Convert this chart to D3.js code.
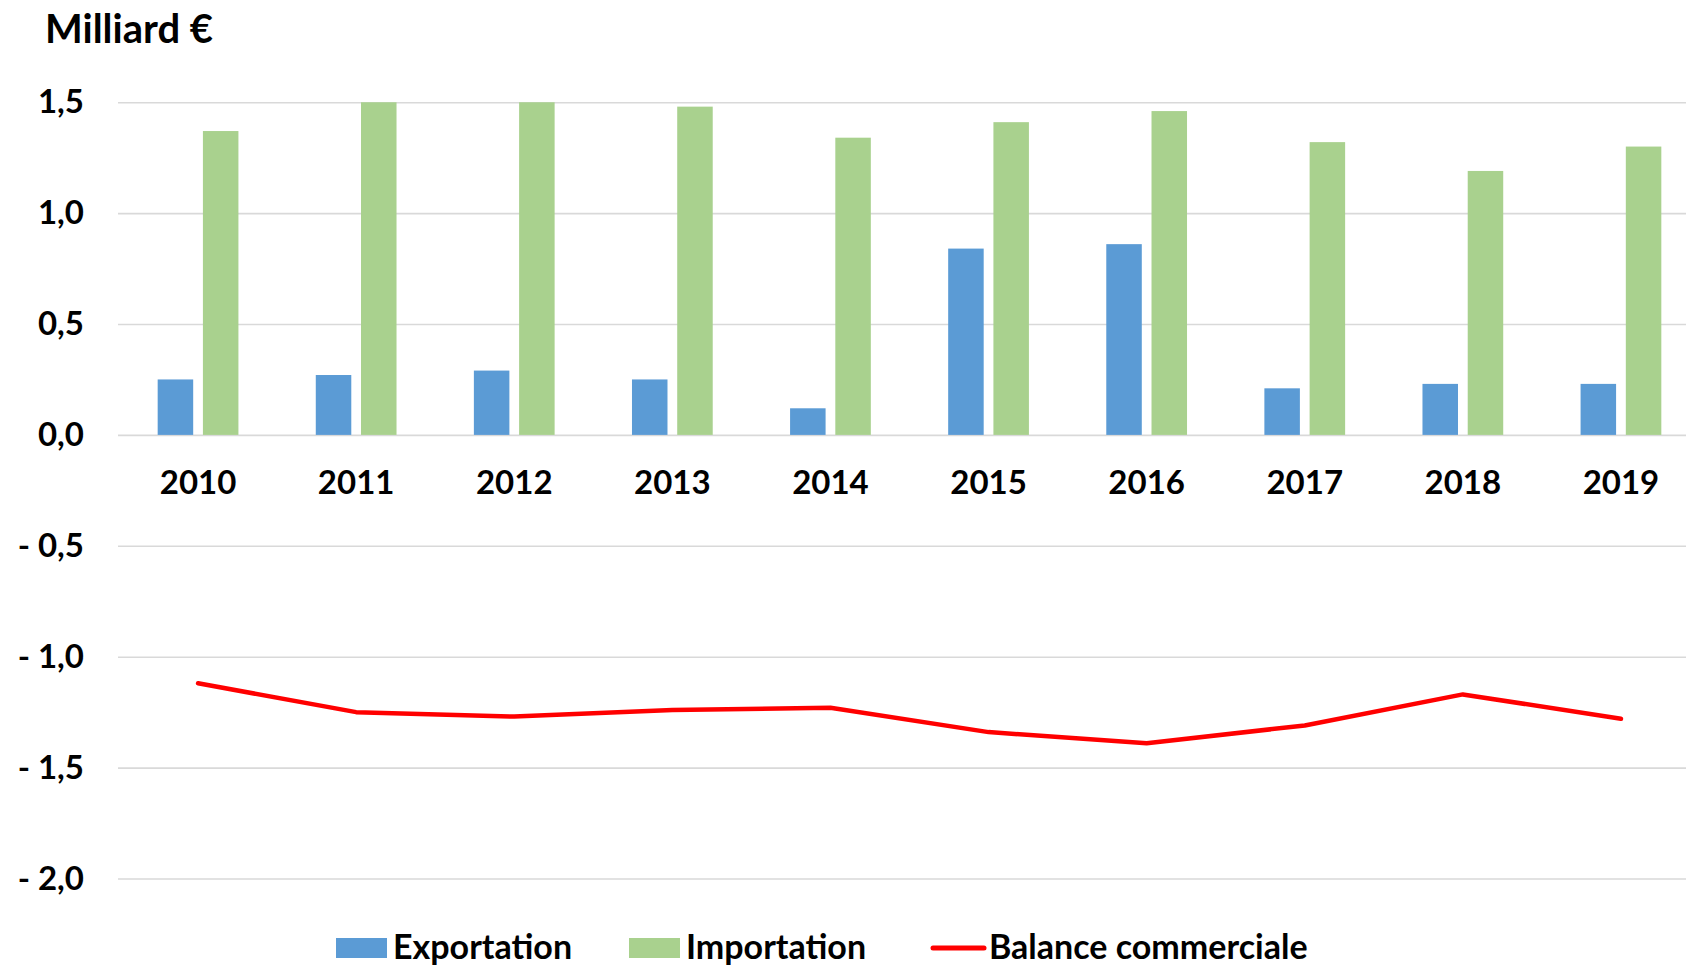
<!DOCTYPE html>
<html>
<head>
<meta charset="utf-8">
<script src="https://cdn.jsdelivr.net/npm/d3@7"></script>
<style>
  body { margin: 0; background: #fff; }
  svg { display: block; font-family: Lato, "Open Sans", sans-serif; font-weight: bold; }
</style>
</head>
<body>
<div id="chart"></div>
<script>
let years = ['2010', '2011', '2012', '2013', '2014', '2015', '2016', '2017', '2018', '2019'];
let exportation = [0.25, 0.27, 0.29, 0.25, 0.12, 0.84, 0.86, 0.21, 0.23, 0.23];
let importation = [1.37, 1.51, 1.55, 1.48, 1.34, 1.41, 1.46, 1.32, 1.19, 1.30];
let balance = [-1.12, -1.25, -1.27, -1.24, -1.23, -1.34, -1.39, -1.31, -1.17, -1.28];
let yTicks = [-2.0, -1.5, -1.0, -0.5, 0.0, 0.5, 1.0, 1.5];

let w = 1686;
let h = 965;
let left = 118;

let svg = d3.select('#chart').
append('svg').
attr('width', w).
attr('height', h);

let x = d3.scaleBand().
domain(years).
range([left + 1, left + 1582]);

let keys = ['exp', 'imp'];
let xSub = d3.scaleBand().
domain(keys).
range([0, x.bandwidth()]).
paddingInner(0.215).
paddingOuter(0.855);

let y = d3.scaleLinear().
domain([-2, 1.5]).
range([878.5, 102.2]);

let fmt = v => (v < 0 ? '- ' : '') + Math.abs(v).toFixed(1).replace('.', ',');

// grid + y labels
let yAxis = svg.append('g').
attr('transform', 'translate(' + left + ',0)').
call(d3.axisLeft(y).tickValues(yTicks).tickFormat(fmt).tickSizeInner(-(w - left)).tickSizeOuter(0).tickPadding(34));
yAxis.select('.domain').remove();
yAxis.selectAll('line').attr('stroke', '#d9d9d9').attr('stroke-width', 1.6);
yAxis.selectAll('text').attr('fill', '#000').style('font-size', '33px').style('font-weight', 'bold').style('font-family', 'Lato');

// bars
svg.append('clipPath').attr('id', 'plotclip').
append('rect').attr('x', 0).attr('y', y(1.5)).attr('width', w).attr('height', h);

let rows = years.map((d, i) => ({ year: d, exp: exportation[i], imp: importation[i] }));
let colors = { exp: '#5b9bd5', imp: '#a9d18e' };

svg.append('g').attr('clip-path', 'url(#plotclip)').
selectAll('g').
data(rows).
join('g').
attr('transform', d => 'translate(' + x(d.year) + ',0)').
selectAll('rect').
data(d => keys.map(k => ({ key: k, value: d[k] }))).
join('rect').
attr('x', d => xSub(d.key)).
attr('width', xSub.bandwidth()).
attr('y', d => y(d.value)).
attr('height', d => y(0) - y(d.value)).
attr('fill', d => colors[d.key]);

// year labels
let xAxis = svg.append('g').
attr('transform', 'translate(0,' + y(0) + ')').
call(d3.axisBottom(x).tickSize(0).tickPadding(36));
xAxis.select('.domain').remove();
xAxis.selectAll('text').attr('fill', '#000').style('font-size', '33px').style('font-weight', 'bold').style('font-family', 'Lato');

// balance line
let line = d3.line().
x((d, i) => x(years[i]) + x.bandwidth() / 2).
y(d => y(d));

svg.append('path').
datum(balance).
attr('d', line).
attr('fill', 'none').
attr('stroke', '#ff0000').
attr('stroke-width', 4.5).
attr('stroke-linejoin', 'round').
attr('stroke-linecap', 'round');

// title
svg.append('text').
attr('x', 45).
attr('y', 43).
text('Milliard €').
style('font-size', '40px');

// legend
let legendItems = [
{ name: 'Exportation', type: 'rect', color: colors.exp, x: 336 },
{ name: 'Importation', type: 'rect', color: colors.imp, x: 629 },
{ name: 'Balance commerciale', type: 'line', color: '#ff0000', x: 931 }];

let lg = svg.append('g').selectAll('g').
data(legendItems).
join('g').
attr('transform', d => 'translate(' + d.x + ',948)');

lg.filter(d => d.type === 'rect').append('rect').
attr('x', 0).attr('y', -10).attr('width', 51).attr('height', 20).
attr('fill', d => d.color);

lg.filter(d => d.type === 'line').append('line').
attr('x1', 2).attr('x2', 53).attr('y1', 0).attr('y2', 0).
attr('stroke', d => d.color).attr('stroke-width', 5).attr('stroke-linecap', 'round');

lg.append('text').
attr('x', d => d.type === 'rect' ? 57 : 58).
attr('y', 11).
text(d => d.name).
style('font-size', '34px');
</script>
</body>
</html>
